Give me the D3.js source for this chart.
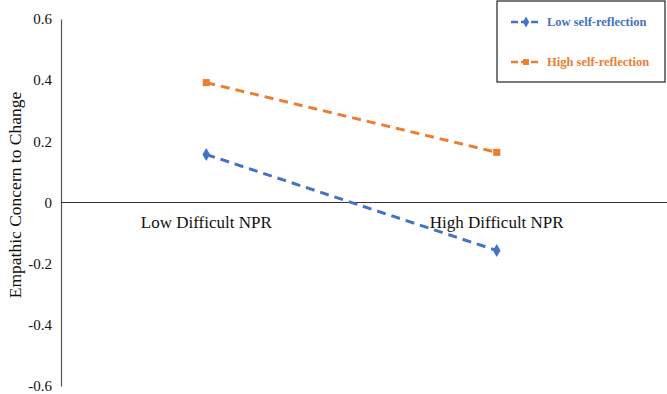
<!DOCTYPE html>
<html>
<head>
<meta charset="utf-8">
<script src="https://cdn.jsdelivr.net/npm/d3@7"></script>
<style>
  body { margin: 0; background: #fff; }
  svg { display: block; }
  svg text { font-family: 'Liberation Serif', 'Times New Roman', Times, 'DejaVu Serif', serif; }
</style>
</head>
<body>
<div id="chart"></div>
<script>
var categories = ['Low Difficult NPR', 'High Difficult NPR']
var lowReflection = [0.157, -0.157]
var highReflection = [0.392, 0.164]
var yTicks = [0.6, 0.4, 0.2, 0, -0.2, -0.4, -0.6]
var seriesNames = ['Low self-reflection', 'High self-reflection']

var w = 667
var h = 394
var blue = '#4472c4'
var orange = '#ed7d31'

var svg = d3.select('#chart').append('svg')
  .attr('width', w)
  .attr('height', h)

var x = d3.scalePoint().domain(categories).range([61, 642]).padding(0.5)
var y = d3.scaleLinear().domain([-0.6, 0.6]).range([386, 19])

// y axis, hyphen minus like the original
var yAxis = d3.axisLeft(y).tickValues(yTicks).tickSize(0).tickPadding(9)
  .tickFormat(function (d) { return d === 0 ? '0' : d.toFixed(1) })
var gy = svg.append('g').attr('transform', 'translate(61,0)').call(yAxis)
gy.attr('font-family', null).attr('font-size', null)
gy.select('.domain').attr('stroke', '#555').attr('stroke-width', 1.2)
gy.selectAll('text').style('font-size', '15px').attr('fill', '#111')

// zero line
svg.append('line')
  .attr('x1', 61).attr('x2', w)
  .attr('y1', y(0)).attr('y2', y(0))
  .attr('stroke', '#333').attr('stroke-width', 1.2)

// category labels
categories.forEach(function (c) {
  svg.append('text').text(c)
    .attr('x', x(c)).attr('y', y(0) + 25)
    .attr('text-anchor', 'middle')
    .style('font-size', '17px').attr('fill', '#111')
})

// y label
svg.append('text').text('Empathic Concern to Change')
  .attr('transform', 'translate(21,195) rotate(-90)')
  .attr('text-anchor', 'middle')
  .style('font-size', '17.5px').attr('fill', '#111')

var line = d3.line().x(function (d, i) { return x(categories[i]) }).y(function (d) { return y(d) })

var series = [
  { name: seriesNames[0], values: lowReflection, color: blue, symbol: d3.symbolDiamond },
  { name: seriesNames[1], values: highReflection, color: orange, symbol: d3.symbolSquare }
]

series.forEach(function (s) {
  svg.append('path').datum(s.values)
    .attr('d', line)
    .attr('fill', 'none')
    .attr('stroke', s.color)
    .attr('stroke-width', 3)
    .attr('stroke-dasharray', '9,6')
  s.values.forEach(function (v, i) {
    svg.append('path')
      .attr('d', d3.symbol().type(s.symbol).size(50)())
      .attr('transform', 'translate(' + x(categories[i]) + ',' + y(v) + ')')
      .attr('fill', s.color)
  })
})

// legend
var legend = svg.append('g')
legend.append('rect')
  .attr('x', 497).attr('y', 1).attr('width', 168).attr('height', 81)
  .attr('fill', '#fff').attr('stroke', '#222').attr('stroke-width', 1.2)
series.forEach(function (s, i) {
  var ly = 22 + i * 40
  legend.append('line')
    .attr('x1', 511).attr('x2', 540).attr('y1', ly).attr('y2', ly)
    .attr('stroke', s.color).attr('stroke-width', 2.5)
    .attr('stroke-dasharray', '7,3')
  legend.append('path')
    .attr('d', d3.symbol().type(s.symbol).size(35)())
    .attr('transform', 'translate(526,' + ly + ')')
    .attr('fill', s.color)
  legend.append('text').text(s.name)
    .attr('x', 547).attr('y', ly).attr('dy', '0.35em')
    .style('font-size', '12.5px').style('font-weight', 'bold')
    .attr('fill', s.color)
})
</script>
</body>
</html>
